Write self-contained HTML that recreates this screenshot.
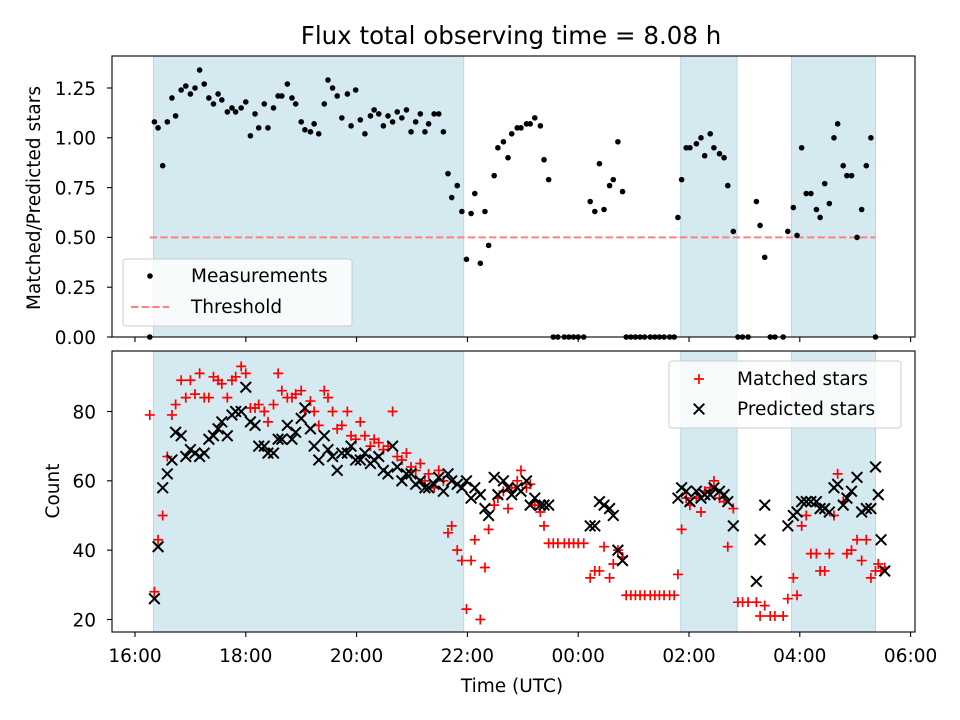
<!DOCTYPE html>
<html><head><meta charset="utf-8"><style>
html,body{margin:0;padding:0;background:#fff;}
svg{display:block;font-family:"DejaVu Sans","Liberation Sans",sans-serif;}
</style></head><body>
<svg id="chart" width="960" height="720" viewBox="0 0 960 720"></svg>
<script>
const times=[16,21,25,30,35,40,44,50,55,60,65,70,75,80,85,90,94,100,105,109,115,120,125,130,134,140,144,150,155,159,165,170,174,180,184,190,194,199,205,209,214,219,224,230,234,239,244,249,255,259,264,269,274,279,284,289,294,299,304,309,314,318,324,329,334,339,343,349,354,359,364,368,374,379,383,389,393,399,404,408,414,418,424,428,433,439,443,448,453,458,465,470,475,480,486,493,498,503,508,514,518,523,528,532,537,542,547,552,558,563,568,573,579,584,588,592,597,601,608,613,617,623,627,633,638,642,648,653,658,664,673,677,682,688,693,702,707,713,717,722,727,732,738,742,747,752,757,761,767,771,776,782,787,792,797,802,805,808,812];
const ratio=[0,1.08,1.05,0.86,1.08,1.20,1.11,1.24,1.26,1.22,1.25,1.34,1.27,1.20,1.17,1.22,1.19,1.13,1.15,1.13,1.15,1.18,1.01,1.12,1.05,1.17,1.05,1.15,1.21,1.21,1.27,1.20,1.17,1.08,1.04,1.03,1.07,1.02,1.17,1.29,1.25,1.21,1.10,1.22,1.06,1.24,1.09,1.02,1.11,1.14,1.12,1.06,1.11,1.08,1.13,1.10,1.14,1.03,1.08,1.12,1.03,1.07,1.12,1.12,1.03,0.82,0.70,0.76,0.63,0.39,0.62,0.72,0.37,0.63,0.46,0.81,0.95,0.98,0.90,1.02,1.05,1.05,1.07,1.07,1.10,1.06,0.89,0.79,0,0,0,0,0,0,0,0.68,0.63,0.87,0.64,0.76,0.79,0.98,0.73,0,0,0,0,0,0,0,0,0,0,0,0.60,0.79,0.95,0.95,0.97,1.00,0.91,1.02,0.95,0.92,0.90,0.76,0.53,0,0,0,0.68,0.56,0.40,0,0,0,0.53,0.65,0.51,0.95,0.72,0.72,0.64,0.60,0.77,0.67,1.00,1.07,0.86,0.81,0.81,0.50,0.64,0.86,1.00,0,null,null,null];
const matched=[79,28,43,50,67,79,82,89,84,89,85,91,84,84,90,89,88,84,89,90,93,91,81,81,82,80,77,82,91,86,84,84,85,86,80,83,80,76,86,84,80,75,76,80,73,72,77,73,70,72,71,69,70,80,67,66,68,64,63,65,60,62,58,63,60,45,47,40,37,23,37,43,20,35,46,53,55,57,52,58,60,63,58,59,53,51,47,42,42,42,42,42,42,42,42,32,34,34,41,32,36,40,38,27,27,27,27,27,27,27,27,27,27,27,33,46,55,53,55,51,57,58,60,55,54,41,52,25,25,25,25,21,24,21,21,21,26,32,27,47,50,39,39,34,34,39,50,62,54,39,40,43,37,43,32,34,36,34,35];
const predicted=[null,26,41,58,62,66,74,73,67,69,68,67,68,72,73,75,77,73,79,80,80,87,77,76,70,70,68,68,72,72,76,72,74,78,81,75,70,66,73,69,67,63,68,68,70,66,66,68,65,66,67,63,62,70,64,60,62,62,59,60,58,58,59,61,57,62,60,59,58,60,55,58,56,52,50,61,56,60,58,56,58,57,60,53,55,53,53,53,null,null,null,null,null,null,null,47,47,54,53,52,50,40,37,null,null,null,null,null,null,null,null,null,null,null,55,58,57,54,57,55,56,56,58,57,56,54,47,null,null,null,31,43,53,null,null,null,47,50,51,54,54,54,54,52,52,51,58,59,53,55,57,61,51,52,52,64,56,43,34];
const shadeStart=[20,591,711];
const shadeEnd=[356,652,802];
const threshold=0.5;
const xTickMin=[0,120,240,360,480,600,720,840];
const xTickLabels=["16:00","18:00","20:00","22:00","00:00","02:00","04:00","06:00"];
const topTicks=[0,0.25,0.5,0.75,1.0,1.25];
const topTickLabels=["0.00","0.25","0.50","0.75","1.00","1.25"];
const botTicks=[20,40,60,80];
const botTickLabels=["20","40","60","80"];

const NS="http://www.w3.org/2000/svg";
const svg=document.getElementById('chart');
function mk(tag,attrs,parent){const e=document.createElementNS(NS,tag);for(const k in attrs)e.setAttribute(k,attrs[k]);(parent||svg).appendChild(e);return e;}
const L=112,R=915,T1=56,B1=337,T2=351,B2=632;
const FS='18.5';
function xS(m){return 135+m/60*55.4;}
function yTop(v){return 337-v*199.2;}
function yBot(v){return 619.5-(v-20)*3.467;}

let t=mk('text',{x:511,y:44,'text-anchor':'middle','font-size':'24.5',fill:'#000'});t.textContent='Flux total observing time = 8.08 h';


function panel(top,bot,name){
  const g=mk('g',{});
  
  
  mk('rect',{x:L,y:top,width:R-L,height:bot-top,fill:'#fff'},g);
  for(let i=0;i<shadeStart.length;i++){
    const r=mk('rect',{x:xS(shadeStart[i]),y:top,width:xS(shadeEnd[i])-xS(shadeStart[i]),height:bot-top,fill:'#d4e9f0',stroke:'#b5dbe8','stroke-width':1},g);
    
    
  }
  return g;
}
function frame(top,bot,g){mk('rect',{x:L,y:top,width:R-L,height:bot-top,fill:'none',stroke:'#000','stroke-width':1.1},g);}

const g1=panel(T1,B1,'ratio-panel');
const th=mk('line',{x1:xS(times[0]),x2:xS(802),y1:yTop(threshold),y2:yTop(threshold),stroke:'#ff8080','stroke-width':2,'stroke-dasharray':'7.4,3.2'},g1);


for(let i=0;i<times.length;i++){
  if(ratio[i]===null)continue;
  const c=mk('circle',{cx:xS(times[i]),cy:yTop(ratio[i]),r:2.8,fill:'#000'},g1);
  
  
}
frame(T1,B1,g1);
for(let i=0;i<topTicks.length;i++){
  const y=yTop(topTicks[i]);
  mk('line',{x1:L-5,x2:L,y1:y,y2:y,stroke:'#000','stroke-width':1.1},g1);
  const tx=mk('text',{x:L-16,y:y+6.8,'text-anchor':'end','font-size':FS},g1);tx.textContent=topTickLabels[i];
  
  
}
for(let i=0;i<xTickMin.length;i++){
  const x=xS(xTickMin[i]);
  mk('line',{x1:x,x2:x,y1:B1,y2:B1+5,stroke:'#000','stroke-width':1.1},g1);
}
let yl=mk('text',{x:0,y:0,'text-anchor':'middle','font-size':FS,transform:'translate(40,198) rotate(-90)'});yl.textContent='Matched/Predicted stars';

const lg1=mk('g',{});

mk('rect',{x:123,y:259,width:229,height:67,rx:3,fill:'#fff','fill-opacity':0.8,stroke:'#ccc'},lg1);
mk('circle',{cx:150,cy:276,r:2.8,fill:'#000'},lg1);
let lt=mk('text',{x:191,y:282,'font-size':FS},lg1);lt.textContent='Measurements';
mk('line',{x1:131,x2:169,y1:307,y2:307,stroke:'#ff8080','stroke-width':2,'stroke-dasharray':'7.4,3.2'},lg1);
lt=mk('text',{x:191,y:313,'font-size':FS},lg1);lt.textContent='Threshold';

const g2=panel(T2,B2,'count-panel');
function plus(x,y,g){const s=5;return mk('path',{d:`M${x-s},${y}H${x+s}M${x},${y-s}V${y+s}`,stroke:'#ff0000','stroke-width':1.7,fill:'none'},g);}
function cross(x,y,g){const s=5.3;return mk('path',{d:`M${x-s},${y-s}L${x+s},${y+s}M${x-s},${y+s}L${x+s},${y-s}`,stroke:'#000','stroke-width':2,fill:'none'},g);}
for(let i=0;i<times.length;i++){
  if(matched[i]===null)continue;
  const p=plus(xS(times[i]),yBot(matched[i]),g2);
  
  
}
for(let i=0;i<times.length;i++){
  if(predicted[i]===null)continue;
  const p=cross(xS(times[i]),yBot(predicted[i]),g2);
  
  
}
frame(T2,B2,g2);
for(let i=0;i<botTicks.length;i++){
  const y=yBot(botTicks[i]);
  mk('line',{x1:L-5,x2:L,y1:y,y2:y,stroke:'#000','stroke-width':1.1},g2);
  const tx=mk('text',{x:L-16,y:y+6.8,'text-anchor':'end','font-size':FS},g2);tx.textContent=botTickLabels[i];
  
  
}
for(let i=0;i<xTickMin.length;i++){
  const x=xS(xTickMin[i]);
  mk('line',{x1:x,x2:x,y1:B2,y2:B2+5,stroke:'#000','stroke-width':1.1},g2);
  const tx=mk('text',{x:x,y:B2+30,'text-anchor':'middle','font-size':FS},g2);tx.textContent=xTickLabels[i];
  
  
}
yl=mk('text',{x:0,y:0,'text-anchor':'middle','font-size':FS,transform:'translate(59,491) rotate(-90)'});yl.textContent='Count';

let xl=mk('text',{x:512,y:692,'text-anchor':'middle','font-size':FS});xl.textContent='Time (UTC)';

const lg2=mk('g',{});

mk('rect',{x:669,y:361,width:232,height:67,rx:3,fill:'#fff','fill-opacity':0.8,stroke:'#ccc'},lg2);
plus(699,379,lg2);
lt=mk('text',{x:737,y:385,'font-size':FS},lg2);lt.textContent='Matched stars';
cross(699,409,lg2);
lt=mk('text',{x:737,y:415,'font-size':FS},lg2);lt.textContent='Predicted stars';
</script>
</body></html>
